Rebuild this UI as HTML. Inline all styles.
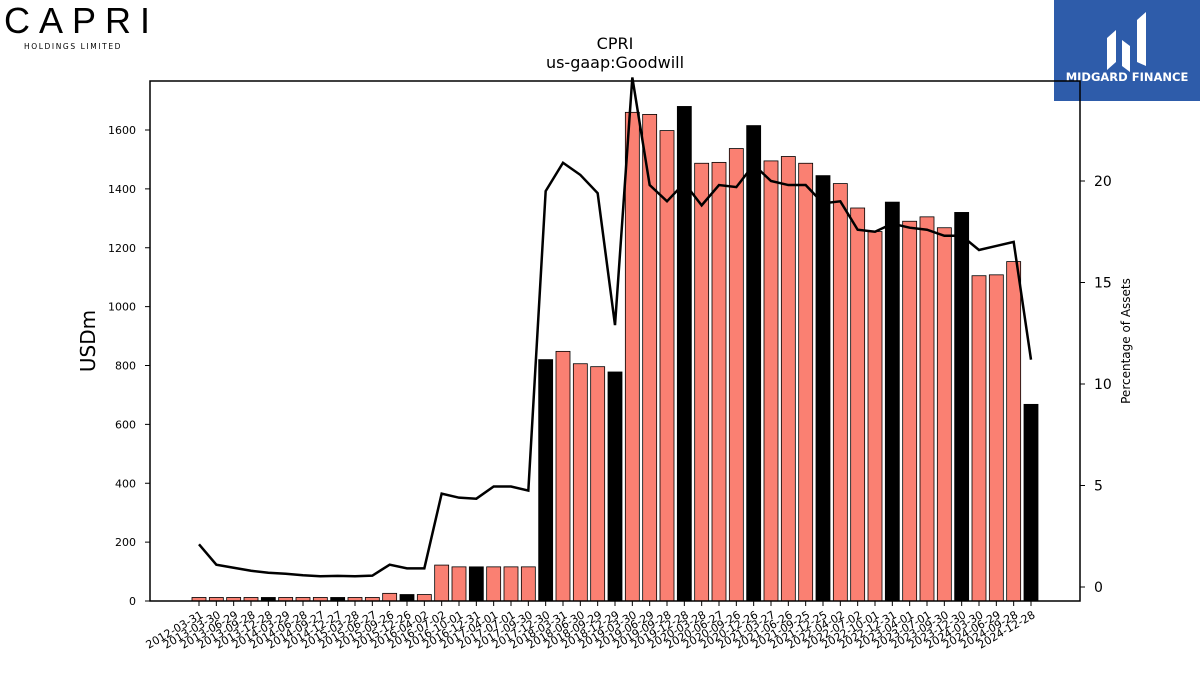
<!DOCTYPE html>
<html><head><meta charset="utf-8"><style>
body{margin:0;width:1200px;height:675px;background:#fff;overflow:hidden;font-family:"Liberation Sans","DejaVu Sans",sans-serif;}
</style></head><body>
<svg id="chart" width="1200" height="675" xmlns="http://www.w3.org/2000/svg" font-family="DejaVu Sans, Liberation Sans, sans-serif">
<g>
<text x="4" y="33" font-size="36" font-family="Liberation Sans, sans-serif" letter-spacing="9" font-weight="300">CAPRI</text>
<text x="24" y="49" font-size="7.5" letter-spacing="1.6">HOLDINGS LIMITED</text>
</g>
<g>
<rect x="1054" y="0" width="146" height="101" fill="#2e5caa"/>
<path d="M1107 70 L1107 38 L1116 30 L1116 62 Z M1122 66 L1122 40 L1130 46 L1130 72 Z M1137 62 L1137 20 L1146 12 L1146 66 Z" fill="#fff"/>
<text x="1127" y="81" font-size="11.5" font-weight="bold" fill="#fff" text-anchor="middle">MIDGARD FINANCE</text>
</g>
<text x="615" y="49" font-size="16" text-anchor="middle">CPRI</text>
<text x="615" y="68" font-size="16" text-anchor="middle">us-gaap:Goodwill</text>
<g id="bars"></g><g id="xaxis"></g><g id="yl"></g><g id="yr"></g>
<path id="pline" fill="none" stroke="#000" stroke-width="2.5"/>
<rect x="150" y="81" width="930" height="520" fill="none" stroke="#000" stroke-width="1.5"/>
<text transform="translate(95,341) rotate(-90)" font-size="20" text-anchor="middle">USDm</text>
<text transform="translate(1130,341) rotate(-90)" font-size="12" text-anchor="middle">Percentage of Assets</text>
</svg>
<script>
const dates=["2012-03-31","2013-03-30","2013-06-29","2013-09-28","2013-12-28","2014-03-29","2014-06-28","2014-09-27","2014-12-27","2015-03-28","2015-06-27","2015-09-26","2015-12-26","2016-04-02","2016-07-02","2016-10-01","2016-12-31","2017-04-01","2017-07-01","2017-09-30","2017-12-30","2018-03-31","2018-06-30","2018-09-29","2018-12-29","2019-03-30","2019-06-29","2019-09-28","2019-12-28","2020-03-28","2020-06-27","2020-09-26","2020-12-26","2021-03-27","2021-06-26","2021-09-25","2021-12-25","2022-04-02","2022-07-02","2022-10-01","2022-12-31","2023-04-01","2023-07-01","2023-09-30","2023-12-30","2024-03-30","2024-06-29","2024-09-28","2024-12-28"];
const goodwill=[12,12,12,12,12,12,12,12,12,12,12,26,22,22,122,116,116,116,116,116,820,848,806,796,778,1660,1653,1598,1680,1487,1490,1537,1615,1495,1510,1487,1445,1418,1335,1255,1355,1290,1305,1268,1320,1105,1108,1153,668];
const pctAssets=[2.1,1.1,0.95,0.8,0.7,0.65,0.58,0.53,0.55,0.53,0.56,1.1,0.92,0.92,4.6,4.4,4.35,4.95,4.95,4.75,19.5,20.9,20.3,19.4,12.9,25.1,19.8,19.0,19.9,18.8,19.8,19.7,20.8,20.0,19.8,19.8,18.9,19.0,17.6,17.5,17.9,17.7,17.6,17.3,17.3,16.6,16.8,17.0,11.2];
const annual=[4,8,12,16,20,24,28,32,36,40,44,48];
const leftTicks=[0,200,400,600,800,1000,1200,1400,1600];
const rightTicks=[0,5,10,15,20];
const NS="http://www.w3.org/2000/svg";
const x=i=>199+i*(1031-199)/(dates.length-1);
const yL=v=>601-v*(601-130)/1600;
const yR=v=>587-v*(587-181)/20;
const mk=(t,a,p)=>{const e=document.createElementNS(NS,t);for(const k in a)e.setAttribute(k,a[k]);p.appendChild(e);return e;};
const bars=document.getElementById('bars'),xa=document.getElementById('xaxis'),yl=document.getElementById('yl'),yr=document.getElementById('yr');
goodwill.forEach((v,i)=>{
 const r=mk('rect',{x:x(i)-7,y:yL(v),width:14,height:601-yL(v),fill:annual.includes(i)?'#000':'#fa8072',stroke:'#000','stroke-width':0.8},bars);
 
 
 const t=mk('line',{x1:x(i),x2:x(i),y1:601,y2:606,stroke:'#000'},xa);
 
 
 const l=mk('text',{'font-size':11,'text-anchor':'end',transform:`translate(${x(i)+5},617) rotate(-30)`},xa);
 l.textContent=dates[i];
 
 
});
leftTicks.forEach(v=>{
 const t=mk('line',{x1:145,x2:150,y1:yL(v),y2:yL(v),stroke:'#000'},yl);
 
 
 const l=mk('text',{x:136,y:yL(v)+4,'font-size':11,'text-anchor':'end'},yl);
 l.textContent=v;
 
 
});
rightTicks.forEach(v=>{
 const t=mk('line',{x1:1080,x2:1085,y1:yR(v),y2:yR(v),stroke:'#000'},yr);
 
 
 const l=mk('text',{x:1094,y:yR(v)+5,'font-size':14},yr);
 l.textContent=v;
 
 
});
document.getElementById('pline').setAttribute('d',pctAssets.map((v,i)=>(i?'L':'M')+x(i)+' '+yR(v)).join(' '));
</script>
</body></html>
